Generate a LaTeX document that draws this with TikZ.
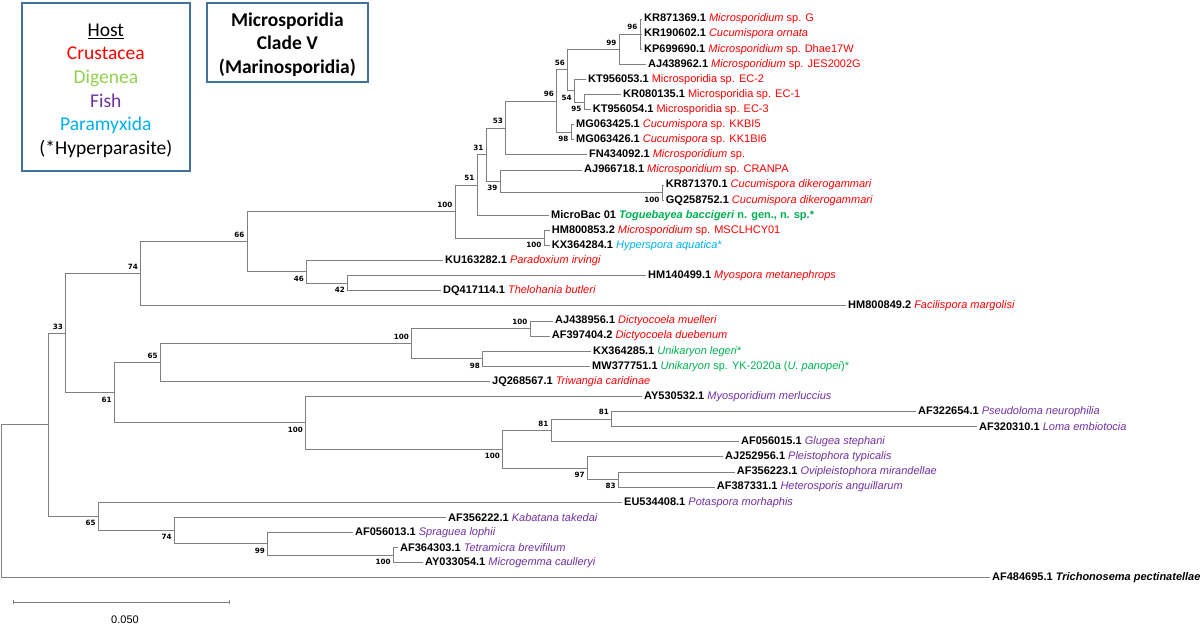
\documentclass[tikz,border=0pt]{standalone}
\usepackage{fontspec}
\setmainfont{Liberation Sans}
\newfontfamily\bootfont{DejaVu Sans}
\newfontfamily\boxfont{Carlito}
\usepackage{tikz}

\definecolor{crus}{RGB}{255,0,0}
\definecolor{dige}{RGB}{0,176,80}
\definecolor{digelight}{RGB}{146,208,80}
\definecolor{fish}{RGB}{112,48,160}
\definecolor{para}{RGB}{0,176,240}
\definecolor{boxblue}{RGB}{65,113,156}
\definecolor{branchgray}{RGB}{128,128,128}
\newcommand{\acc}[1]{\textbf{#1}}

\begin{document}
\begin{tikzpicture}[x=1pt,y=-1pt,
	branch/.style={draw=branchgray, line width=0.9pt},
	leaf/.style={anchor=west, inner xsep=2pt, inner ysep=1pt, font=\fontsize{11}{13}\selectfont},
	boot/.style={anchor=east, inner sep=0.5pt, xshift=-2pt, font=\bootfont\bfseries\fontsize{7.2}{8}\selectfont},
	legendbox/.style={draw=boxblue, line width=2pt, align=center, inner sep=0pt, font=\boxfont\fontsize{19.5}{23.7}\selectfont}]
		\useasboundingbox (0,0) rectangle (1200,626);
		
		% Legende
		\node[legendbox, minimum width=168.3pt, minimum height=168.6pt] (hostbox) at (105.85,87)
		{\rule{0pt}{20pt}\underline{Host}\\ \textcolor{crus}{Crustacea}\\ \textcolor{digelight}{Digenea}\\ \textcolor{fish}{Fish}\\ \textcolor{para}{Paramyxida}\\ (*Hyperparasite)};
		\node[legendbox, font=\boxfont\bfseries\fontsize{19.5}{23.7}\selectfont, minimum width=161.3pt, minimum height=79.6pt] (cladebox) at (287.35,42.5)
		{\rule{0pt}{17.5pt}Microsporidia\\ Clade V\\ (Marinosporidia)};
		
		% Blaetter (Zeilenabstand 15.1)
		\node[leaf] (KR871369) at (642,19) {\acc{KR871369.1} \textcolor{crus}{\textit{Microsporidium} sp. G}};
		\node[leaf] (KR190602) at (642,34.1) {\acc{KR190602.1} \textcolor{crus}{\textit{Cucumispora ornata}}};
		\node[leaf] (KP699690) at (642,49.2) {\acc{KP699690.1} \textcolor{crus}{\textit{Microsporidium} sp. Dhae17W}};
		\node[leaf] (AJ438962) at (646,64.3) {\acc{AJ438962.1} \textcolor{crus}{\textit{Microsporidium} sp. JES2002G}};
		\node[leaf] (KT956053) at (586,79.4) {\acc{KT956053.1} \textcolor{crus}{Microsporidia sp. EC-2}};
		\node[leaf] (KR080135) at (621,94.5) {\acc{KR080135.1} \textcolor{crus}{Microsporidia sp. EC-1}};
		\node[leaf] (KT956054) at (590.7,109.6) {\acc{KT956054.1} \textcolor{crus}{Microsporidia sp. EC-3}};
		\node[leaf] (MG063425) at (574,124.7) {\acc{MG063425.1} \textcolor{crus}{\textit{Cucumispora} sp. KKBI5}};
		\node[leaf] (MG063426) at (574,139.8) {\acc{MG063426.1} \textcolor{crus}{\textit{Cucumispora} sp. KK1BI6}};
		\node[leaf] (FN434092) at (587,154.9) {\acc{FN434092.1} \textcolor{crus}{\textit{Microsporidium} sp.}};
		\node[leaf] (AJ966718) at (582,170) {\acc{AJ966718.1} \textcolor{crus}{\textit{Microsporidium} sp. CRANPA}};
		\node[leaf] (KR871370) at (663.7,185.1) {\acc{KR871370.1} \textcolor{crus}{\textit{Cucumispora dikerogammari}}};
		\node[leaf] (GQ258752) at (663.7,200.2) {\acc{GQ258752.1} \textcolor{crus}{\textit{Cucumispora dikerogammari}}};
		\node[leaf] (MicroBac) at (549,215.3) {\acc{MicroBac 01} \textcolor{dige}{\textbf{\textit{Toguebayea baccigeri} n. gen., n. sp.*}}};
		\node[leaf] (HM800853) at (549.7,230.4) {\acc{HM800853.2} \textcolor{crus}{\textit{Microsporidium} sp. MSCLHCY01}};
		\node[leaf] (KX364284) at (549.7,245.5) {\acc{KX364284.1} \textcolor{para}{\textit{Hyperspora aquatica}*}};
		\node[leaf] (KU163282) at (443,260.6) {\acc{KU163282.1} \textcolor{crus}{\textit{Paradoxium irvingi}}};
		\node[leaf] (HM140499) at (646,275.7) {\acc{HM140499.1} \textcolor{crus}{\textit{Myospora metanephrops}}};
		\node[leaf] (DQ417114) at (441,290.8) {\acc{DQ417114.1} \textcolor{crus}{\textit{Thelohania butleri}}};
		\node[leaf] (HM800849) at (846,305.9) {\acc{HM800849.2} \textcolor{crus}{\textit{Facilispora margolisi}}};
		\node[leaf] (AJ438956) at (553,321) {\acc{AJ438956.1} \textcolor{crus}{\textit{Dictyocoela muelleri}}};
		\node[leaf] (AF397404) at (549.7,336.1) {\acc{AF397404.2} \textcolor{crus}{\textit{Dictyocoela duebenum}}};
		\node[leaf] (KX364285) at (591,351.2) {\acc{KX364285.1} \textcolor{dige}{\textit{Unikaryon legeri}*}};
		\node[leaf] (MW377751) at (590,366.3) {\acc{MW377751.1} \textcolor{dige}{\textit{Unikaryon} sp. YK-2020a (\textit{U. panopei})*}};
		\node[leaf] (JQ268567) at (490,381.4) {\acc{JQ268567.1} \textcolor{crus}{\textit{Triwangia caridinae}}};
		\node[leaf] (AY530532) at (642,396.5) {\acc{AY530532.1} \textcolor{fish}{\textit{Myosporidium merluccius}}};
		\node[leaf] (AF322654) at (916,411.6) {\acc{AF322654.1} \textcolor{fish}{\textit{Pseudoloma neurophilia}}};
		\node[leaf] (AF320310) at (977,426.7) {\acc{AF320310.1} \textcolor{fish}{\textit{Loma embiotocia}}};
		\node[leaf] (AF056015) at (739,441.8) {\acc{AF056015.1} \textcolor{fish}{\textit{Glugea stephani}}};
		\node[leaf] (AJ252956) at (723,456.9) {\acc{AJ252956.1} \textcolor{fish}{\textit{Pleistophora typicalis}}};
		\node[leaf] (AF356223) at (734.7,472) {\acc{AF356223.1} \textcolor{fish}{\textit{Ovipleistophora mirandellae}}};
		\node[leaf] (AF387331) at (714.7,487.1) {\acc{AF387331.1} \textcolor{fish}{\textit{Heterosporis anguillarum}}};
		\node[leaf] (EU534408) at (622,502.2) {\acc{EU534408.1} \textcolor{fish}{\textit{Potaspora morhaphis}}};
		\node[leaf] (AF356222) at (446,517.3) {\acc{AF356222.1} \textcolor{fish}{\textit{Kabatana takedai}}};
		\node[leaf] (AF056013) at (353,532.4) {\acc{AF056013.1} \textcolor{fish}{\textit{Spraguea lophii}}};
		\node[leaf] (AF364303) at (398,547.5) {\acc{AF364303.1} \textcolor{fish}{\textit{Tetramicra brevifilum}}};
		\node[leaf] (AY033054) at (423,562.6) {\acc{AY033054.1} \textcolor{fish}{\textit{Microgemma caulleryi}}};
		\node[leaf] (AF484695) at (990,577.7) {\acc{AF484695.1} \textbf{\textit{Trichonosema pectinatellae}}};
		
		% Innere Knoten
		\coordinate (nA96) at (640,34.1);
		\coordinate (nA99) at (619,49.2);
		\coordinate (nA95) at (584,102.05);
		\coordinate (nA54) at (574.3,90.7);
		\coordinate (nA56) at (567.7,69.95);
		\coordinate (nA98) at (571,132.25);
		\coordinate (nA96b) at (556.7,101.1);
		\coordinate (nA53) at (505.5,128);
		\coordinate (nA100c) at (662,192.65);
		\coordinate (nA39) at (500,181.3);
		\coordinate (nA31) at (486,154.65);
		\coordinate (nA51) at (477,185);
		\coordinate (nA100h) at (544,237.95);
		\coordinate (cladeV) at (455,211.5);
		\coordinate (n42) at (347.7,283.25);
		\coordinate (n46) at (306.7,271.9);
		\coordinate (n66) at (247,241.7);
		\coordinate (n74) at (140.7,273.8);
		\coordinate (n100d) at (530,328.55);
		\coordinate (n98u) at (482.7,358.75);
		\coordinate (n100du) at (411.7,343.65);
		\coordinate (n65) at (160.3,362.5);
		\coordinate (n81a) at (611.7,419.15);
		\coordinate (n81b) at (551,430.5);
		\coordinate (n83) at (618.3,479.55);
		\coordinate (n97) at (587.3,468.2);
		\coordinate (n100f) at (502.7,449.35);
		\coordinate (n100g) at (305.7,422.9);
		\coordinate (n61) at (114.3,392.7);
		\coordinate (n33) at (65.7,333.25);
		\coordinate (n100t) at (393.3,555.05);
		\coordinate (n99s) at (267.7,543.7);
		\coordinate (n74k) at (174.3,530.5);
		\coordinate (n65p) at (98.3,516.35);
		\coordinate (ingroup) at (48.3,424.8);
		\coordinate (root) at (1.5,501.25);
		
		% Aeste zu den Blaettern
		\foreach \p/\c in {nA96/KR871369, nA96/KR190602, nA96/KP699690, nA99/AJ438962,
			nA54/KT956053, nA95/KR080135, nA95/KT956054, nA98/MG063425, nA98/MG063426,
			nA53/FN434092, nA39/AJ966718, nA100c/KR871370, nA100c/GQ258752, nA51/MicroBac,
			nA100h/HM800853, nA100h/KX364284, n46/KU163282, n42/HM140499, n42/DQ417114,
			n74/HM800849, n100d/AJ438956, n100d/AF397404, n98u/KX364285, n98u/MW377751,
			n65/JQ268567, n100g/AY530532, n81a/AF322654, n81a/AF320310, n81b/AF056015,
			n97/AJ252956, n83/AF356223, n83/AF387331, n65p/EU534408, n74k/AF356222,
			n99s/AF056013, n100t/AF364303, n100t/AY033054, root/AF484695}
		\draw[branch] (\p) |- (\c.west);
		
		% Aeste zwischen inneren Knoten
		\foreach \p/\c in {nA99/nA96, nA56/nA99, nA54/nA95, nA56/nA54, nA96b/nA56, nA96b/nA98,
			nA53/nA96b, nA31/nA53, nA39/nA100c, nA31/nA39, nA51/nA31, cladeV/nA51, cladeV/nA100h,
			n66/cladeV, n46/n42, n66/n46, n74/n66, n33/n74, n100du/n100d, n100du/n98u,
			n65/n100du, n61/n65, n81b/n81a, n100f/n81b, n97/n83, n100f/n97, n100g/n100f,
			n61/n100g, n33/n61, n99s/n100t, n74k/n99s, n65p/n74k, ingroup/n33, ingroup/n65p,
			root/ingroup}
		\draw[branch] (\p) |- (\c);
		
		% Bootstrap-Werte (1 = oberhalb, -1 = unterhalb)
		\foreach \n/\v/\d in {nA96/96/1, nA99/99/1, nA56/56/1, nA54/54/-1, nA95/95/-1,
			nA96b/96/1, nA98/98/-1, nA53/53/1, nA31/31/1, nA39/39/-1, nA100c/100/-1,
			nA51/51/1, cladeV/100/1, nA100h/100/-1, n66/66/1, n74/74/1, n46/46/-1,
			n42/42/-1, n33/33/1, n100d/100/1, n100du/100/1, n98u/98/-1, n65/65/1,
			n61/61/-1, n100g/100/-1, n81a/81/1, n81b/81/1, n100f/100/-1, n97/97/-1,
			n83/83/-1, n65p/65/-1, n74k/74/-1, n99s/99/-1, n100t/100/-1}
		\node[boot, yshift=\d*6.8pt] (b\n) at (\n) {\v};
		
		% Massstab
		\coordinate (sbL) at (13.3,602.3);
		\coordinate (sbR) at (229.3,602.3);
		\draw[branch] (sbL) -- (sbR);
		\draw[branch] ([yshift=2pt]sbL) -- ([yshift=-2pt]sbL);
		\draw[branch] ([yshift=2pt]sbR) -- ([yshift=-2pt]sbR);
		\node[font=\fontsize{11}{13}\selectfont] (sblabel) at (125,620) {0.050};
		
	\end{tikzpicture}
\end{document}
